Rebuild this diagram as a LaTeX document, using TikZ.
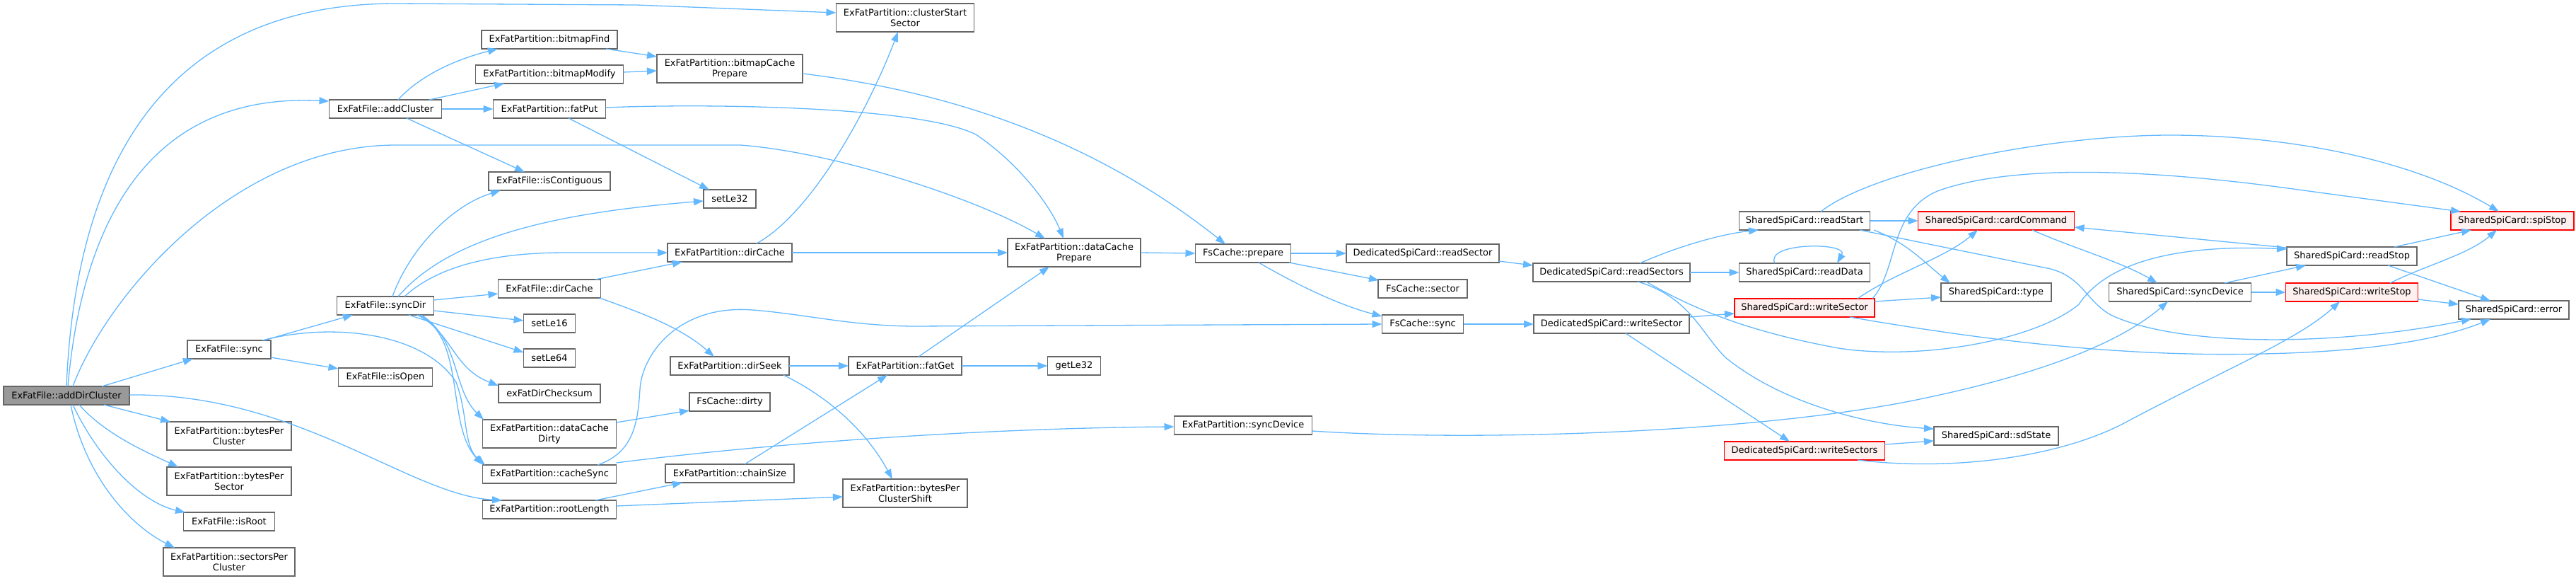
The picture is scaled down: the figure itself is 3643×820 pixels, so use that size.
\documentclass[tikz,border=0pt]{standalone}
\usepackage{fontspec}
\setmainfont{DejaVu Sans}
\usetikzlibrary{arrows.meta,calc}
\definecolor{edgeblue}{HTML}{63B8FF}
\definecolor{nodegray}{HTML}{666666}
\definecolor{rootgray}{HTML}{999999}
\definecolor{redfill}{HTML}{FFF0F0}
\begin{document}
\begin{tikzpicture}[x=1pt,y=-1pt,
  box/.style={draw=nodegray, fill=white, line width=1.3pt, inner sep=0pt, align=center,
    font=\fontsize{13}{15}\selectfont, minimum height=26pt},
  boxtwo/.style={box, minimum height=40pt},
  redbox/.style={box, draw=red, fill=redfill},
  rootbox/.style={box, fill=rootgray},
  call/.style={draw=edgeblue, line width=1.3pt, -{Triangle[length=14pt,width=10pt]}}]
\useasboundingbox (0,0) rectangle (3643,820);
% rank 0
\node[rootbox, minimum width=178pt] (A) at (94,559) {ExFatFile::addDirCluster};
% rank 1
\node[box, minimum width=118pt] (sync) at (324,494) {ExFatFile::sync};
\node[boxtwo, minimum width=176pt] (bpc) at (324,616) {ExFatPartition::bytesPer\\Cluster};
\node[boxtwo, minimum width=176pt] (bps) at (324,680) {ExFatPartition::bytesPer\\Sector};
\node[box, minimum width=129pt] (isRoot) at (324,737) {ExFatFile::isRoot};
\node[boxtwo, minimum width=186pt] (spc) at (324,794) {ExFatPartition::sectorsPer\\Cluster};
% rank 2
\node[box, minimum width=159pt] (addCl) at (545,154) {ExFatFile::addCluster};
\node[box, minimum width=137pt] (syncDir) at (545,432) {ExFatFile::syncDir};
\node[box, minimum width=133pt] (isOpen) at (545,533) {ExFatFile::isOpen};
% rank 3
\node[box, minimum width=192pt] (bmFind) at (777,56) {ExFatPartition::bitmapFind};
\node[box, minimum width=209pt] (bmMod) at (777,105) {ExFatPartition::bitmapModify};
\node[box, minimum width=159pt] (fatPut) at (777,154) {ExFatPartition::fatPut};
\node[box, minimum width=172pt] (isCont) at (777,256) {ExFatFile::isContiguous};
\node[box, minimum width=145pt] (fdc) at (777,408) {ExFatFile::dirCache};
\node[box, minimum width=73pt] (le16) at (777,457) {setLe16};
\node[box, minimum width=73pt] (le64) at (777,506) {setLe64};
\node[box, minimum width=144pt] (chks) at (777,556) {exFatDirChecksum};
\node[boxtwo, minimum width=189pt] (dcd) at (777,613) {ExFatPartition::dataCache\\Dirty};
\node[box, minimum width=189pt] (cSync) at (777,670) {ExFatPartition::cacheSync};
\node[box, minimum width=189pt] (rootLen) at (777,720) {ExFatPartition::rootLength};
% rank 4
\node[boxtwo, minimum width=206pt] (bcp) at (1032,97) {ExFatPartition::bitmapCache\\Prepare};
\node[box, minimum width=74pt] (le32) at (1032,281) {setLe32};
\node[box, minimum width=176pt] (pdc) at (1032,357) {ExFatPartition::dirCache};
\node[box, minimum width=168pt] (dirSeek) at (1032,517) {ExFatPartition::dirSeek};
\node[box, minimum width=114pt] (fcDirty) at (1032,568) {FsCache::dirty};
\node[box, minimum width=182pt] (chain) at (1032,669) {ExFatPartition::chainSize};
% rank 5
\node[boxtwo, minimum width=195pt] (cst) at (1280,25) {ExFatPartition::clusterStart\\Sector};
\node[box, minimum width=160pt] (fatGet) at (1280,517) {ExFatPartition::fatGet};
\node[boxtwo, minimum width=176pt] (bpcs) at (1280,697) {ExFatPartition::bytesPer\\ClusterShift};
% rank 6
\node[boxtwo, minimum width=188pt] (dcp) at (1519,357) {ExFatPartition::dataCache\\Prepare};
\node[box, minimum width=75pt] (getLe) at (1519,517) {getLe32};
% rank 7
\node[box, minimum width=135pt] (fsp) at (1758,358) {FsCache::prepare};
\node[box, minimum width=195pt] (psd) at (1758,601) {ExFatPartition::syncDevice};
% rank 8
\node[box, minimum width=216pt] (rdSec) at (2012,358) {DedicatedSpiCard::readSector};
\node[box, minimum width=126pt] (fcSec) at (2012,408) {FsCache::sector};
\node[box, minimum width=115pt] (fcSync) at (2012,458) {FsCache::sync};
% rank 9
\node[box, minimum width=222pt] (rdSecs) at (2279,385) {DedicatedSpiCard::readSectors};
\node[box, minimum width=220pt] (wrSec) at (2279,458) {DedicatedSpiCard::writeSector};
% rank 10
\node[box, minimum width=185pt] (rdStart) at (2552,312) {SharedSpiCard::readStart};
\node[box, minimum width=185pt] (rdData) at (2552,385) {SharedSpiCard::readData};
\node[redbox, minimum width=198pt] (sws) at (2552,435) {SharedSpiCard::writeSector};
\node[redbox, minimum width=227pt] (wrSecs) at (2552,637) {DedicatedSpiCard::writeSectors};
% rank 11
\node[redbox, minimum width=221pt] (cardCmd) at (2823,312) {SharedSpiCard::cardCommand};
\node[box, minimum width=156pt] (type) at (2823,413) {SharedSpiCard::type};
\node[box, minimum width=176pt] (sdState) at (2823,616) {SharedSpiCard::sdState};
% rank 12
\node[box, minimum width=201pt] (ssd) at (3083,413) {SharedSpiCard::syncDevice};
% rank 13
\node[box, minimum width=184pt] (rdStop) at (3326,362) {SharedSpiCard::readStop};
\node[redbox, minimum width=187pt] (wrStop) at (3326,413) {SharedSpiCard::writeStop};
% rank 14
\node[redbox, minimum width=174pt] (spiStop) at (3553,312) {SharedSpiCard::spiStop};
\node[box, minimum width=156pt] (err) at (3555,438) {SharedSpiCard::error};

% ---- edges from addDirCluster
\draw[call] ($(A)+(0,-13)$) .. controls (110,160) and (290,5) .. (560,5) -- (900,7) -- ($(cst)+(-97.5,-7)$);
\draw[call] ($(A)+(2,-13)$) .. controls (115,330) and (200,130) .. ($(addCl)+(-79.5,-11)$);
\draw[call] ($(A)+(9,-13)$) .. controls (150,420) and (330,205) .. (560,205) -- (1047,205) .. controls (1180,215) and (1380,280) .. ($(dcp)+(-41,-20)$);
\draw[call] ($(A)+(50,-13)$) -- ($(sync)+(-51,13)$);
\draw[call] ($(A)+(53,13)$) -- ($(bpc)+(-83,-20)$);
\draw[call] ($(A)+(18,13)$) .. controls (150,615) and (210,640) .. ($(bps)+(-72,-20)$);
\draw[call] ($(A)+(9,13)$) .. controls (140,650) and (200,710) .. ($(isRoot)+(-62,-13)$);
\draw[call] ($(A)+(6,13)$) .. controls (120,670) and (180,740) .. ($(spc)+(-77,-20)$);
\draw[call] ($(A)+(89,-1)$) .. controls (420,555) and (580,700) .. ($(rootLen)+(-67,-13)$);
% ---- sync
\draw[call] ($(sync)+(49,-13)$) -- ($(syncDir)+(-46,13)$);
\draw[call] ($(sync)+(59,11)$) -- ($(isOpen)+(-66.5,-12)$);
\draw[call] ($(sync)+(47,-13)$) .. controls (470,455) and (600,470) .. (645,540) .. controls (662,585) and (655,630) .. ($(cSync)+(-91,-13)$);
% ---- addCluster
\draw[call] ($(addCl)+(18,-13)$) .. controls (600,100) and (660,80) .. ($(bmFind)+(-73,13)$);
\draw[call] ($(addCl)+(62,-13)$) -- ($(bmMod)+(-64,13)$);
\draw[call] ($(addCl)+(79.5,0)$) -- ($(fatPut)+(-79.5,0)$);
\draw[call] ($(addCl)+(30,13)$) -- ($(isCont)+(-35,-13)$);
% ---- bitmap
\draw[call] ($(bmFind)+(80,13)$) -- ($(bcp)+(-103,-17)$);
\draw[call] ($(bmMod)+(104.5,-3)$) -- ($(bcp)+(-103,3)$);
\draw[call] ($(bcp)+(103,7)$) .. controls (1350,130) and (1550,200) .. ($(fsp)+(-25,-13)$);
% ---- fatPut
\draw[call] ($(fatPut)+(79.5,-2)$) .. controls (1000,146) and (1300,150) .. (1380,190) .. controls (1440,230) and (1485,290) .. ($(dcp)+(-15,-20)$);
\draw[call] ($(fatPut)+(27,13)$) -- ($(le32)+(-29,-13)$);
% ---- syncDir
\draw[call] ($(syncDir)+(10,-13)$) .. controls (580,350) and (640,290) .. ($(isCont)+(-69,13)$);
\draw[call] ($(syncDir)+(18,-13)$) .. controls (640,330) and (800,300) .. ($(le32)+(-37,3)$);
\draw[call] ($(syncDir)+(27,-13)$) .. controls (620,375) and (700,357) .. (800,357) -- ($(pdc)+(-88,0)$);
\draw[call] ($(syncDir)+(68.5,-8)$) -- ($(fdc)+(-72.5,7)$);
\draw[call] ($(syncDir)+(68.5,7)$) -- ($(le16)+(-36.5,-4)$);
\draw[call] ($(syncDir)+(33,13)$) -- ($(le64)+(-36.5,-8)$);
\draw[call] ($(syncDir)+(45,13)$) .. controls (640,470) and (640,520) .. ($(chks)+(-72,-11)$);
\draw[call] ($(syncDir)+(51,13)$) .. controls (650,480) and (640,550) .. ($(dcd)+(-93,-20)$);
\draw[call] ($(syncDir)+(48,13)$) .. controls (660,480) and (630,600) .. ($(cSync)+(-94,-13)$);
% ---- dirCache etc.
\draw[call] ($(fdc)+(65,-13)$) -- ($(pdc)+(-67,13)$);
\draw[call] ($(fdc)+(71,13)$) .. controls (900,440) and (960,460) .. ($(dirSeek)+(-22,-13)$);
\draw[call] ($(pdc)+(38,-13)$) .. controls (1150,300) and (1230,150) .. ($(cst)+(-10,20)$);
\draw[call] ($(pdc)+(88,0)$) -- ($(dcp)+(-94,0)$);
\draw[call] ($(dcd)+(94.5,-16)$) -- ($(fcDirty)+(-57,12)$);
\draw[call] ($(cSync)+(68,-13)$) .. controls (895,640) and (902,600) .. (905,550) .. controls (908,500) and (960,430) .. (1064,438) .. controls (1140,444) and (1200,460) .. (1290,461) -- ($(fcSync)+(-57.5,0)$);
\draw[call] ($(cSync)+(94.5,-16)$) .. controls (1100,625) and (1400,605) .. ($(psd)+(-97.5,2)$);
\draw[call] ($(rootLen)+(65,-13)$) -- ($(chain)+(-67,13)$);
\draw[call] ($(rootLen)+(94.5,-5)$) -- ($(bpcs)+(-88,5)$);
\draw[call] ($(chain)+(21,-13)$) -- ($(fatGet)+(-25,13)$);
\draw[call] ($(dirSeek)+(84,0)$) -- ($(fatGet)+(-80,0)$);
\draw[call] ($(dirSeek)+(76,13)$) .. controls (1160,555) and (1220,600) .. ($(bpcs)+(-18,-20)$);
\draw[call] ($(fatGet)+(80,0)$) -- ($(getLe)+(-37.5,0)$);
\draw[call] ($(fatGet)+(19,-13)$) -- ($(dcp)+(-35,20)$);
\draw[call] ($(dcp)+(94,0)$) -- ($(fsp)+(-67.5,0)$);
% ---- FsCache
\draw[call] ($(fsp)+(67.5,0)$) -- ($(rdSec)+(-108,0)$);
\draw[call] ($(fsp)+(65,13)$) -- ($(fcSec)+(-62,-12)$);
\draw[call] ($(fsp)+(22,13)$) .. controls (1830,400) and (1890,430) .. ($(fcSync)+(-57.5,-11)$);
\draw[call] ($(fcSync)+(57.5,0)$) -- ($(wrSec)+(-110,0)$);
\draw[call] ($(rdSec)+(108,11)$) -- ($(rdSecs)+(-111,-10)$);
% ---- readSectors
\draw[call] ($(rdSecs)+(40,-13)$) .. controls (2380,345) and (2440,330) .. ($(rdStart)+(-65,13)$);
\draw[call] ($(rdSecs)+(111,0)$) -- ($(rdData)+(-92.5,0)$);
\draw[call] ($(rdData)+(-42,-13)$) .. controls (2495,342) and (2615,342) .. ($(rdData)+(46,-13)$);
\draw[call] ($(rdSecs)+(49,13)$) .. controls (2400,440) and (2480,470) .. (2600,492) .. controls (2720,510) and (2880,480) .. (2940,430) .. controls (2980,370) and (3080,345) .. ($(rdStop)+(-92,-10)$);
\draw[call] ($(rdSecs)+(37,13)$) .. controls (2390,420) and (2405,470) .. (2440,505) .. controls (2520,570) and (2640,600) .. ($(sdState)+(-88,-10)$);
% ---- writeSector
\draw[call] ($(wrSec)+(110,-10)$) -- ($(sws)+(-99,8)$);
\draw[call] ($(wrSec)+(20,13)$) -- ($(wrSecs)+(-21,-13)$);
\draw[call] ($(sws)+(96,-13)$) .. controls (2685,380) and (2670,300) .. (2740,270) .. controls (2850,230) and (3050,240) .. (3250,268) -- ($(spiStop)+(-73,-13)$);
\draw[call] ($(sws)+(75,-13)$) .. controls (2680,385) and (2750,365) .. ($(cardCmd)+(-26,13)$);
\draw[call] ($(sws)+(99,-9)$) -- ($(type)+(-78,7)$);
\draw[call] ($(sws)+(64,13)$) .. controls (2800,480) and (3000,505) .. (3200,500) .. controls (3350,497) and (3450,480) .. ($(err)+(-33,13)$);
% ---- readStart
\draw[call] ($(rdStart)+(23,-13)$) .. controls (2650,240) and (2900,190) .. (3075,191) .. controls (3250,192) and (3420,230) .. ($(spiStop)+(-19,-13)$);
\draw[call] ($(rdStart)+(92.5,0)$) -- ($(cardCmd)+(-110.5,0)$);
\draw[call] ($(rdStart)+(78,13)$) -- (2900,380) .. controls (2945,392) and (2950,425) .. (2985,445) .. controls (3080,490) and (3300,490) .. ($(err)+(-60,13)$);
\draw[call] ($(rdStart)+(98,13)$) .. controls (2700,345) and (2720,370) .. ($(type)+(-65,-13)$);
% ---- right part
\draw[call] ($(rdStop)+(-92,-12)$) -- ($(cardCmd)+(110.5,9)$);
\draw[call] ($(cardCmd)+(51,13)$) .. controls (2930,350) and (3000,370) .. ($(ssd)+(-32,-13)$);
\draw[call] ($(ssd)+(63,-13)$) -- ($(rdStop)+(-65,13)$);
\draw[call] ($(ssd)+(100.5,0)$) -- ($(wrStop)+(-93.5,0)$);
\draw[call] ($(rdStop)+(60,-13)$) -- ($(spiStop)+(-58,13)$);
\draw[call] ($(rdStop)+(51,13)$) -- ($(err)+(-33,-13)$);
\draw[call] ($(wrStop)+(54,-13)$) .. controls (3430,375) and (3490,360) .. ($(spiStop)+(-22,13)$);
\draw[call] ($(wrStop)+(93.5,10)$) -- ($(err)+(-78,-8)$);
\draw[call] ($(psd)+(97.5,8)$) .. controls (2100,625) and (2500,610) .. (2720,563) .. controls (2830,540) and (2980,500) .. ($(ssd)+(-17,13)$);
\draw[call] ($(wrSecs)+(113.5,-9)$) -- ($(sdState)+(-88,7)$);
\draw[call] ($(wrSecs)+(75,13)$) .. controls (2750,665) and (2900,650) .. (3000,600) .. controls (3150,520) and (3250,480) .. ($(wrStop)+(-17,13)$);
\end{tikzpicture}
\end{document}
